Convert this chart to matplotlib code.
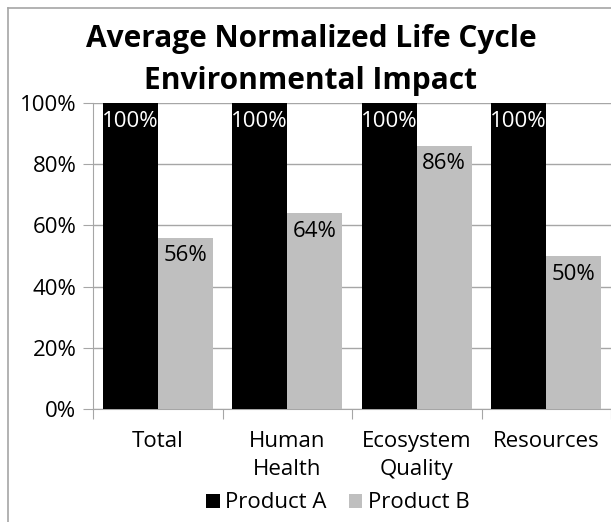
import matplotlib
matplotlib.use("Agg")
import matplotlib.pyplot as plt
import numpy as np

# ---------------- DATA ----------------
categories = ["Total", "Human\nHealth", "Ecosystem\nQuality", "Resources"]
product_a = [100, 100, 100, 100]
product_b = [56, 64, 86, 50]
series_names = ["Product A", "Product B"]
y_ticks = [0, 20, 40, 60, 80, 100]

# ---------------- STYLE ----------------
plt.rcParams['font.family'] = ['Open Sans', 'DejaVu Sans']
COLORS = ['#000000', '#bfbfbf']
GRID = '#a6a6a6'
FS = 16

fig = plt.figure(figsize=(6.11, 5.22), dpi=100)
ax = fig.add_axes([93 / 611, 1 - 409 / 522, (611 - 93) / 611, (409 - 103) / 522])

x = np.arange(len(categories))
w = 0.425
bars_a = ax.bar(x - w / 2, product_a, w, color=COLORS[0], label=series_names[0], zorder=3)
bars_b = ax.bar(x + w / 2, product_b, w, color=COLORS[1], label=series_names[1], zorder=3)

# value labels inside the top of each bar
for bar in bars_a:
    h = bar.get_height()
    ax.text(bar.get_x() + bar.get_width() / 2, h - 2.5, f'{int(h)}%',
            ha='center', va='top', fontsize=FS, color='white', zorder=4)
for bar in bars_b:
    h = bar.get_height()
    ax.text(bar.get_x() + bar.get_width() / 2, h - 2.5, f'{int(h)}%',
            ha='center', va='top', fontsize=FS, color='black', zorder=4)

ax.set_xlim(-0.5, len(categories) - 0.5)
ax.set_ylim(0, 100)
ax.set_yticks(y_ticks)
ax.set_yticklabels([f'{t}%' for t in y_ticks], fontsize=FS)
ax.yaxis.grid(True, color=GRID, linewidth=1, zorder=0)
ax.tick_params(axis='y', length=7, color=GRID, pad=5)

# category ticks at boundaries, labels at centers
ax.set_xticks(np.arange(len(categories) + 1) - 0.5)
ax.set_xticklabels([])
ax.set_xticks(x, minor=True)
ax.set_xticklabels(categories, minor=True, fontsize=FS, linespacing=1.4)
ax.tick_params(axis='x', which='minor', length=0, pad=16)
ax.tick_params(axis='x', which='major', length=7, color=GRID)

for side in ['top', 'right']:
    ax.spines[side].set_visible(False)
ax.spines['left'].set_color(GRID)
ax.spines['bottom'].set_color(GRID)

fig.text(311 / 611, 1 - 60 / 522, "Average Normalized Life Cycle\nEnvironmental Impact",
         ha='center', va='center', fontsize=21.5, fontweight='bold', linespacing=1.55)

fig.legend(handles=[bars_a, bars_b], labels=series_names, loc='center',
           bbox_to_anchor=(338 / 611, 1 - 503 / 522), ncol=2, frameon=False,
           fontsize=FS, handlelength=0.6, handleheight=0.6, handletextpad=0.25,
           columnspacing=1.0, borderpad=0)

# chart border (left and top edges visible)
fig.add_artist(plt.Line2D([8 / 611, 8 / 611], [0, 1 - 8 / 522], color=GRID, linewidth=1.2,
                          transform=fig.transFigure))
fig.add_artist(plt.Line2D([8 / 611, 1], [1 - 8 / 522, 1 - 8 / 522], color=GRID, linewidth=1.2,
                          transform=fig.transFigure))

fig.savefig("out.png", dpi=100)
